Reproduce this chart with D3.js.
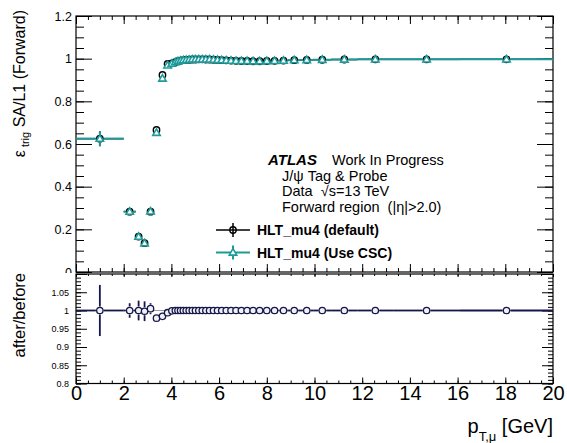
<!DOCTYPE html>
<html>
<head>
<meta charset="utf-8">
<script src="https://cdn.jsdelivr.net/npm/d3@7"></script>
<style>
  html, body { margin: 0; padding: 0; background: #fff; }
  svg { display: block; font-family: "Liberation Sans", Arial, Helvetica, sans-serif; }
  text { white-space: pre; }
</style>
</head>
<body>
<svg id="chart" width="567" height="443"></svg>
<script>
// pT bin edges [GeV]
const ptEdges = [0, 2, 2.5, 2.75, 3.0, 3.25, 3.5, 3.75, 3.93, 4.11, 4.22, 4.33, 4.44,
  4.56, 4.68, 4.81, 4.94, 5.08, 5.22, 5.37, 5.52, 5.68, 5.85, 6.02, 6.2, 6.4, 6.6,
  6.82, 7.05, 7.3, 7.55, 7.85, 8.15, 8.5, 8.9, 9.4, 9.95, 10.7, 11.8, 13.3, 16.1, 20];

// SA/L1 trigger efficiency, HLT_mu4 (default)
const effDefault = [0.625, 0.283, 0.166, 0.135, 0.283, 0.666, 0.924, 0.975, 0.978,
  0.984, 0.988, 0.991, 0.993, 0.994, 0.995, 0.996, 0.996, 0.997, 0.997, 0.996, 0.996,
  0.995, 0.994, 0.993, 0.992, 0.991, 0.990, 0.989, 0.989, 0.988, 0.988, 0.989, 0.990,
  0.991, 0.993, 0.994, 0.995, 0.996, 0.997, 0.997, 0.997];
const errDefault = [0.035, 0.010, 0.010, 0.010, 0.010, 0.008, 0.006, 0.004, 0.003,
  0.003, 0.003, 0.003, 0.003, 0.003, 0.003, 0.003, 0.003, 0.003, 0.003, 0.003, 0.003,
  0.003, 0.003, 0.003, 0.003, 0.003, 0.003, 0.003, 0.003, 0.003, 0.003, 0.003, 0.003,
  0.003, 0.003, 0.003, 0.003, 0.003, 0.003, 0.003, 0.003];

// SA/L1 trigger efficiency, HLT_mu4 (Use CSC)
const effCSC = [0.625, 0.283, 0.166, 0.135, 0.284, 0.653, 0.907, 0.969, 0.977,
  0.984, 0.988, 0.991, 0.993, 0.994, 0.995, 0.996, 0.996, 0.997, 0.997, 0.996, 0.996,
  0.995, 0.994, 0.993, 0.992, 0.991, 0.990, 0.989, 0.989, 0.988, 0.988, 0.989, 0.990,
  0.991, 0.993, 0.994, 0.995, 0.996, 0.997, 0.997, 0.997];
const errCSC = errDefault.slice();

// after/before ratio
const ratio = [1.0, 1.0, 1.0, 0.998, 1.005, 0.979, 0.984, 0.994, 0.999,
  1.0, 1.0, 1.0, 1.0, 1.0, 1.0, 1.0, 1.0, 1.0, 1.0, 1.0, 1.0, 1.0, 1.0, 1.0, 1.0,
  1.0, 1.0, 1.0, 1.0, 1.0, 1.0, 1.0, 1.0, 1.0, 1.0, 1.0, 1.0, 1.0, 1.0, 1.0, 1.0];
const ratioErr = [0.07, 0.02, 0.027, 0.027, 0.015, 0.003, 0.002, 0.001, 0.001,
  0.001, 0.001, 0.001, 0.001, 0.001, 0.001, 0.001, 0.001, 0.001, 0.001, 0.001, 0.001,
  0.001, 0.001, 0.001, 0.001, 0.001, 0.001, 0.001, 0.001, 0.001, 0.001, 0.001, 0.001,
  0.001, 0.001, 0.001, 0.001, 0.001, 0.001, 0.001, 0.001];

const xTicks = [0, 2, 4, 6, 8, 10, 12, 14, 16, 18, 20];
const effTicks = [0, 0.2, 0.4, 0.6, 0.8, 1, 1.2];
const ratioTicks = [0.8, 0.85, 0.9, 0.95, 1, 1.05];

const legendLabels = ["HLT_mu4 (default)", "HLT_mu4 (Use CSC)"];

const BLACK = "#000000";
const TEAL = "#1f9a9a";
const NAVY = "#16164a";

const svg = d3.select("#chart");

// frames
const L = 76, R = 553;
const topT = 16, topB = 272;
const botT = 274, botB = 383.5;

const x = d3.scaleLinear().domain([0, 20]).range([L, R]);
const yEff = d3.scaleLinear().domain([0, 1.2]).range([topB, topT]);
const yRat = d3.scaleLinear().domain([0.8, 1.1]).range([botB, botT]);

const bins = effDefault.map((v, i) => ({
  lo: ptEdges[i], hi: ptEdges[i + 1], c: (ptEdges[i] + ptEdges[i + 1]) / 2,
  def: v, defErr: errDefault[i], csc: effCSC[i], cscErr: errCSC[i],
  r: ratio[i], rErr: ratioErr[i]
}));

// ---------- axis helpers ----------
function drawAxis(g, axis) {
  g.call(axis);
  g.select(".domain").remove();
  g.selectAll("line").attr("stroke", "#000").attr("stroke-width", 1);
}
function range(a, b, step) {
  const out = []; const n = Math.round((b - a) / step);
  for (let i = 0; i <= n; i++) out.push(+(a + i * step).toFixed(6));
  return out;
}

// ---------- efficiency panel ----------
const effPad = svg.append("g");
// x ticks (bottom, pointing up; top, pointing down)
const xMinor = range(0, 20, 0.5);
drawAxis(effPad.append("g").attr("transform", `translate(0,${topB})`),
  d3.axisTop(x).tickValues(xMinor).tickSize(4).tickFormat(""));
drawAxis(effPad.append("g").attr("transform", `translate(0,${topB})`),
  d3.axisTop(x).tickValues(xTicks).tickSize(8).tickFormat(""));
drawAxis(effPad.append("g").attr("transform", `translate(0,${topT})`),
  d3.axisBottom(x).tickValues(xMinor).tickSize(4).tickFormat(""));
drawAxis(effPad.append("g").attr("transform", `translate(0,${topT})`),
  d3.axisBottom(x).tickValues(xTicks).tickSize(8).tickFormat(""));
// y ticks
const effMinor = range(0, 1.2, 0.05);
drawAxis(effPad.append("g").attr("transform", `translate(${L},0)`),
  d3.axisRight(yEff).tickValues(effMinor).tickSize(8).tickFormat(""));
drawAxis(effPad.append("g").attr("transform", `translate(${L},0)`),
  d3.axisRight(yEff).tickValues(effTicks).tickSize(16).tickFormat(""));
drawAxis(effPad.append("g").attr("transform", `translate(${R},0)`),
  d3.axisLeft(yEff).tickValues(effMinor).tickSize(8).tickFormat(""));
drawAxis(effPad.append("g").attr("transform", `translate(${R},0)`),
  d3.axisLeft(yEff).tickValues(effTicks).tickSize(16).tickFormat(""));

// y tick labels, clipped at the pad bottom
svg.append("clipPath").attr("id", "effClip")
  .append("rect").attr("x", 0).attr("y", 0).attr("width", 567).attr("height", botT - 1);
const effLabels = effPad.append("g").attr("clip-path", "url(#effClip)")
  .append("g").attr("transform", `translate(${L},0)`)
  .call(d3.axisLeft(yEff).tickValues(effTicks).tickSize(0).tickPadding(4)
    .tickFormat(d3.format("~g")));
effLabels.select(".domain").remove();
effLabels.selectAll("text").attr("font-size", 12.5).attr("fill", "#000")
  .attr("font-family", "Liberation Sans, Arial, sans-serif");

effPad.append("rect").attr("x", L).attr("y", topT).attr("width", R - L).attr("height", topB - topT)
  .attr("fill", "none").attr("stroke", "#000").attr("stroke-width", 1.2);

// y title
const ty = effPad.append("text")
  .attr("transform", `translate(25,10) rotate(-90)`)
  .attr("text-anchor", "end").attr("font-size", 16).attr("fill", "#000");
ty.append("tspan").text("ε");
ty.append("tspan").attr("font-size", 11).attr("dy", 4).text(" trig");
ty.append("tspan").attr("dy", -4).text(" SA/L1 (Forward)");

// series drawing with gaps at the marker
function drawSeries(g, data, key, errKey, color, markerType, yScale, lw) {
  const gap = 4;
  data.forEach(d => {
    const cx = x(d.c), cy = yScale(d[key]);
    const xl = x(d.lo), xh = x(d.hi);
    if (cx - gap > xl) g.append("line").attr("x1", xl).attr("x2", cx - gap)
      .attr("y1", cy).attr("y2", cy).attr("stroke", color).attr("stroke-width", lw);
    if (xh > cx + gap) g.append("line").attr("x1", cx + gap).attr("x2", xh)
      .attr("y1", cy).attr("y2", cy).attr("stroke", color).attr("stroke-width", lw);
    const yu = yScale(d[key] + d[errKey]), yd = yScale(d[key] - d[errKey]);
    if (cy - gap > yu) g.append("line").attr("x1", cx).attr("x2", cx)
      .attr("y1", yu).attr("y2", cy - gap).attr("stroke", color).attr("stroke-width", lw);
    if (yd > cy + gap) g.append("line").attr("x1", cx).attr("x2", cx)
      .attr("y1", cy + gap).attr("y2", yd).attr("stroke", color).attr("stroke-width", lw);
  });
  data.forEach(d => drawMarker(g, x(d.c), yScale(d[key]), color, markerType));
}
function drawMarker(g, cx, cy, color, type) {
  if (type === "circle") {
    g.append("circle").attr("cx", cx).attr("cy", cy).attr("r", 3.2)
      .attr("fill", "none").attr("stroke", color).attr("stroke-width", 1.4);
  } else if (type === "triangle") {
    g.append("path").attr("d", d3.symbol(d3.symbolTriangle, 24)())
      .attr("transform", `translate(${cx},${cy + 0.5})`)
      .attr("fill", "#fff").attr("stroke", color).attr("stroke-width", 1.6);
  } else {
    g.append("circle").attr("cx", cx).attr("cy", cy).attr("r", 3.2)
      .attr("fill", "#eef0f4").attr("stroke", color).attr("stroke-width", 1.3);
  }
}

const marks = effPad.append("g");
drawSeries(marks, bins, "def", "defErr", BLACK, "circle", yEff, 1.5);
drawSeries(marks, bins, "csc", "cscErr", TEAL, "triangle", yEff, 2);

// label block
const info = effPad.append("g").attr("font-size", 14.5).attr("fill", "#000");
info.append("text").attr("x", 268).attr("y", 165).attr("font-weight", "bold")
  .attr("font-style", "italic").attr("font-size", 15).text("ATLAS");
info.append("text").attr("x", 332).attr("y", 165).text("Work In Progress");
info.append("text").attr("x", 282).attr("y", 180.5).text("J/ψ Tag & Probe");
info.append("text").attr("x", 282).attr("y", 196).text("Data  √s=13 TeV");
info.append("text").attr("x", 282).attr("y", 211.5).text("Forward region  (|η|>2.0)");

// legend
const leg = effPad.append("g");
[[BLACK, "circle", 230], [TEAL, "triangle", 252.5]].forEach(([c, m, ly], i) => {
  leg.append("line").attr("x1", 216).attr("x2", 250).attr("y1", ly).attr("y2", ly)
    .attr("stroke", c).attr("stroke-width", i ? 2 : 1.5);
  leg.append("line").attr("x1", 233).attr("x2", 233).attr("y1", ly - 7).attr("y2", ly + 7)
    .attr("stroke", c).attr("stroke-width", i ? 2 : 1.5);
  drawMarker(leg, 233, ly, c, m);
  leg.append("text").attr("x", 257).attr("y", ly + 5).attr("font-size", 14)
    .attr("font-weight", "bold").attr("fill", "#000").text(legendLabels[i]);
});

// ---------- ratio panel ----------
const ratPad = svg.append("g");
const ratMinor = range(0.8, 1.1, 0.01);
drawAxis(ratPad.append("g").attr("transform", `translate(${L},0)`),
  d3.axisRight(yRat).tickValues(ratMinor).tickSize(5).tickFormat(""));
drawAxis(ratPad.append("g").attr("transform", `translate(${L},0)`),
  d3.axisRight(yRat).tickValues(ratioTicks.concat([1.1])).tickSize(11).tickFormat(""));
drawAxis(ratPad.append("g").attr("transform", `translate(${R},0)`),
  d3.axisLeft(yRat).tickValues(ratMinor).tickSize(5).tickFormat(""));
drawAxis(ratPad.append("g").attr("transform", `translate(${R},0)`),
  d3.axisLeft(yRat).tickValues(ratioTicks.concat([1.1])).tickSize(11).tickFormat(""));
drawAxis(ratPad.append("g").attr("transform", `translate(0,${botB})`),
  d3.axisTop(x).tickValues(xMinor).tickSize(3).tickFormat(""));
drawAxis(ratPad.append("g").attr("transform", `translate(0,${botB})`),
  d3.axisTop(x).tickValues(xTicks).tickSize(6).tickFormat(""));
drawAxis(ratPad.append("g").attr("transform", `translate(0,${botT})`),
  d3.axisBottom(x).tickValues(xMinor).tickSize(2).tickFormat(""));
drawAxis(ratPad.append("g").attr("transform", `translate(0,${botT})`),
  d3.axisBottom(x).tickValues(xTicks).tickSize(3).tickFormat(""));

const ratLabels = ratPad.append("g").attr("transform", `translate(${L},0)`)
  .call(d3.axisLeft(yRat).tickValues(ratioTicks).tickSize(0).tickPadding(7)
    .tickFormat(d3.format("~g")));
ratLabels.select(".domain").remove();
ratLabels.selectAll("text").attr("font-size", 9).attr("fill", "#000")
  .attr("font-family", "Liberation Sans, Arial, sans-serif");

const xLabels = ratPad.append("g").attr("transform", `translate(0,${botB})`)
  .call(d3.axisBottom(x).tickValues(xTicks).tickSize(0).tickPadding(2)
    .tickFormat(d3.format("~g")));
xLabels.select(".domain").remove();
xLabels.selectAll("text").attr("font-size", 20).attr("fill", "#000")
  .attr("font-family", "Liberation Sans, Arial, sans-serif");

ratPad.append("rect").attr("x", L).attr("y", botT).attr("width", R - L).attr("height", botB - botT)
  .attr("fill", "none").attr("stroke", "#000").attr("stroke-width", 1.2);

// reference line at unity
ratPad.append("line").attr("x1", x(0)).attr("x2", x(20)).attr("y1", yRat(1)).attr("y2", yRat(1))
  .attr("stroke", "#9a9a9a").attr("stroke-width", 1);
drawSeries(ratPad.append("g"), bins, "r", "rErr", NAVY, "ratio", yRat, 1.8);

// ratio y title
ratPad.append("text").attr("transform", `translate(25,273) rotate(-90)`)
  .attr("text-anchor", "end").attr("font-size", 16.5).attr("fill", "#000").text("after/before");

// x title
const tx = svg.append("text").attr("x", 553).attr("y", 433).attr("text-anchor", "end")
  .attr("font-size", 20).attr("fill", "#000");
tx.append("tspan").text("p");
tx.append("tspan").attr("font-size", 13).attr("dy", 8).text("T,μ");
tx.append("tspan").attr("dy", -8).text(" [GeV]");
</script>
</body>
</html>
